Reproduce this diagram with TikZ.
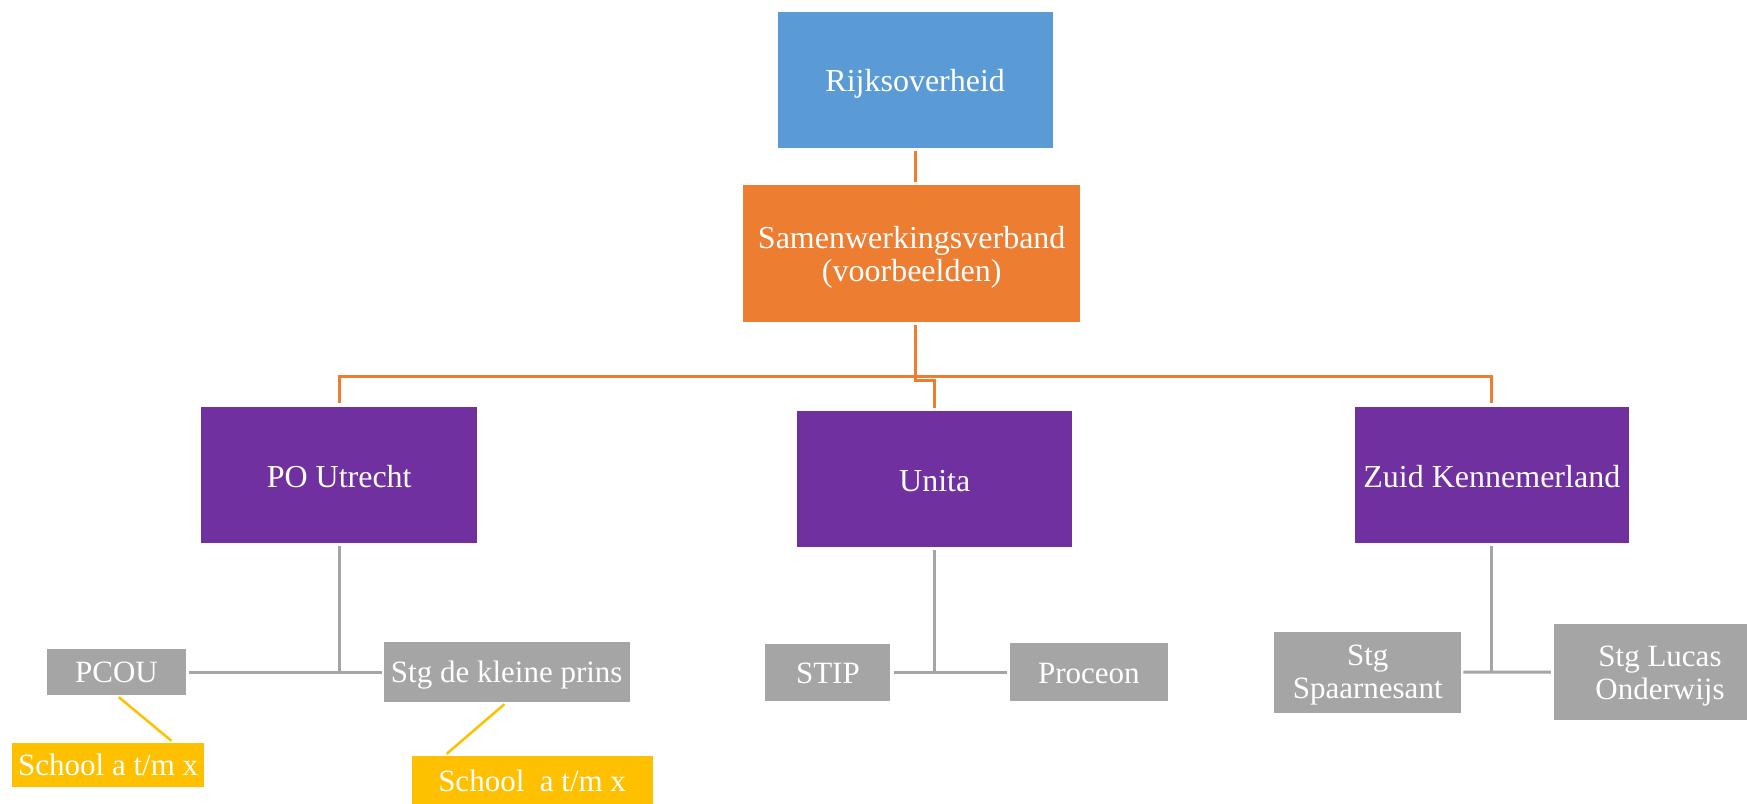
\documentclass[tikz,border=0pt]{standalone}
\usepackage{fontspec}
\setmainfont{Liberation Serif}
\definecolor{cblue}{HTML}{5B9BD5}
\definecolor{corange}{HTML}{ED7D31}
\definecolor{cpurple}{HTML}{7030A0}
\definecolor{cgrey}{HTML}{A5A5A5}
\definecolor{cyellow}{HTML}{FFC000}
\tikzset{
  box/.style={rectangle, inner sep=0pt},
  tx/.style={text=white, align=center, inner sep=0pt, font=\fontsize{31}{33}\selectfont},
  bigtx/.style={tx, font=\fontsize{32}{33}\selectfont},
  bluebox/.style={box, fill=cblue},
  orangebox/.style={box, fill=corange},
  purplebox/.style={box, fill=cpurple},
  greybox/.style={box, fill=cgrey},
  yellowbox/.style={box, fill=cyellow},
  oline/.style={draw=corange, line width=3pt},
  gline/.style={draw=cgrey, line width=3pt},
  yline/.style={draw=cyellow, line width=2.5pt},
}
\begin{document}
\begin{tikzpicture}[x=1pt,y=-1pt]
\useasboundingbox (0,0) rectangle (1747,803);
\clip (0,0) rectangle (1747,803);
% top level
\node[bluebox, minimum width=275pt, minimum height=135.7pt,
  label={[bigtx, yshift=-4pt]center:{Rijksoverheid}}] (rijk) at (915.2,80.2) {};
\node[orangebox, minimum width=336.7pt, minimum height=136.4pt,
  label={[bigtx, yshift=-4pt]center:{Samenwerkingsverband\\(voorbeelden)}}] (sam) at (911.7,253.5) {};
% purple level
\node[purplebox, minimum width=275.5pt, minimum height=136pt,
  label={[bigtx, yshift=-2pt]center:{PO Utrecht}}] (po) at (339.2,475) {};
\node[purplebox, minimum width=274.5pt, minimum height=136pt,
  label={[bigtx, yshift=-2pt]center:{Unita}}] (unita) at (934.7,479) {};
\node[purplebox, minimum width=274.5pt, minimum height=136pt,
  label={[bigtx, yshift=-2pt]center:{Zuid Kennemerland}}] (zuid) at (1491.8,475) {};
% grey level
\node[greybox, minimum width=139.3pt, minimum height=46pt,
  label={[tx]center:{PCOU}}] (pcou) at (116.5,672) {};
\node[greybox, minimum width=245.6pt, minimum height=60pt,
  label={[tx, yshift=-3pt]center:{Stg de kleine prins}}] (kleine) at (506.7,672) {};
\node[greybox, minimum width=125pt, minimum height=57pt,
  label={[tx, yshift=-1pt]center:{STIP}}] (stip) at (827.9,672.2) {};
\node[greybox, minimum width=158.2pt, minimum height=58.3pt,
  label={[tx, yshift=-1pt]center:{Proceon}}] (proceon) at (1088.9,672.2) {};
\node[greybox, minimum width=187pt, minimum height=81pt,
  label={[tx, yshift=-3pt]center:{Stg\\Spaarnesant}}] (spaar) at (1367.7,672.2) {};
\node[greybox, minimum width=212pt, minimum height=95.4pt,
  label={[tx, yshift=-4pt]center:{Stg Lucas\\Onderwijs}}] (lucas) at (1660,672) {};
% yellow level
\node[yellowbox, minimum width=192.5pt, minimum height=43.7pt,
  label={[tx]center:{School a t/m x}}] (school1) at (108.2,764.8) {};
\node[yellowbox, minimum width=241.1pt, minimum height=50pt,
  label={[tx]center:{School\ \ a t/m x}}] (school2) at (532.1,781) {};
% orange connectors
\coordinate (bus) at (915.3,376);
\draw[oline, shorten <=3pt, shorten >=3pt] (rijk.south) -- (rijk.south |- sam.north);
\draw[oline, shorten <=3pt, shorten >=3pt] (rijk.south |- sam.south) -- ++(0,59) -| (unita.north);
\draw[oline, shorten <=4pt, shorten >=4pt] (po.north) |- (bus) -| (zuid.north);
% grey connectors
\draw[gline, shorten <=3pt] (po.south) -- (po.south |- pcou.east);
\draw[gline, shorten <=3pt, shorten >=2pt] (pcou.east) -- (kleine.west);
\draw[gline, shorten <=3pt] (unita.south) -- (unita.south |- stip.east);
\draw[gline, shorten <=3pt, shorten >=3pt] (stip.east) -- (proceon.west);
\draw[gline, shorten <=3pt] (zuid.south) -- (zuid.south |- spaar.east);
\draw[gline, shorten <=2pt, shorten >=3pt] (spaar.east) -- (lucas.west);
% yellow connectors
\draw[yline, shorten <=3pt, shorten >=3pt] (pcou.south) -- ([xshift=162pt]school1.north west);
\draw[yline, shorten <=3pt, shorten >=3pt] (kleine.south) -- ([xshift=33pt]school2.north west);
\end{tikzpicture}
\end{document}
